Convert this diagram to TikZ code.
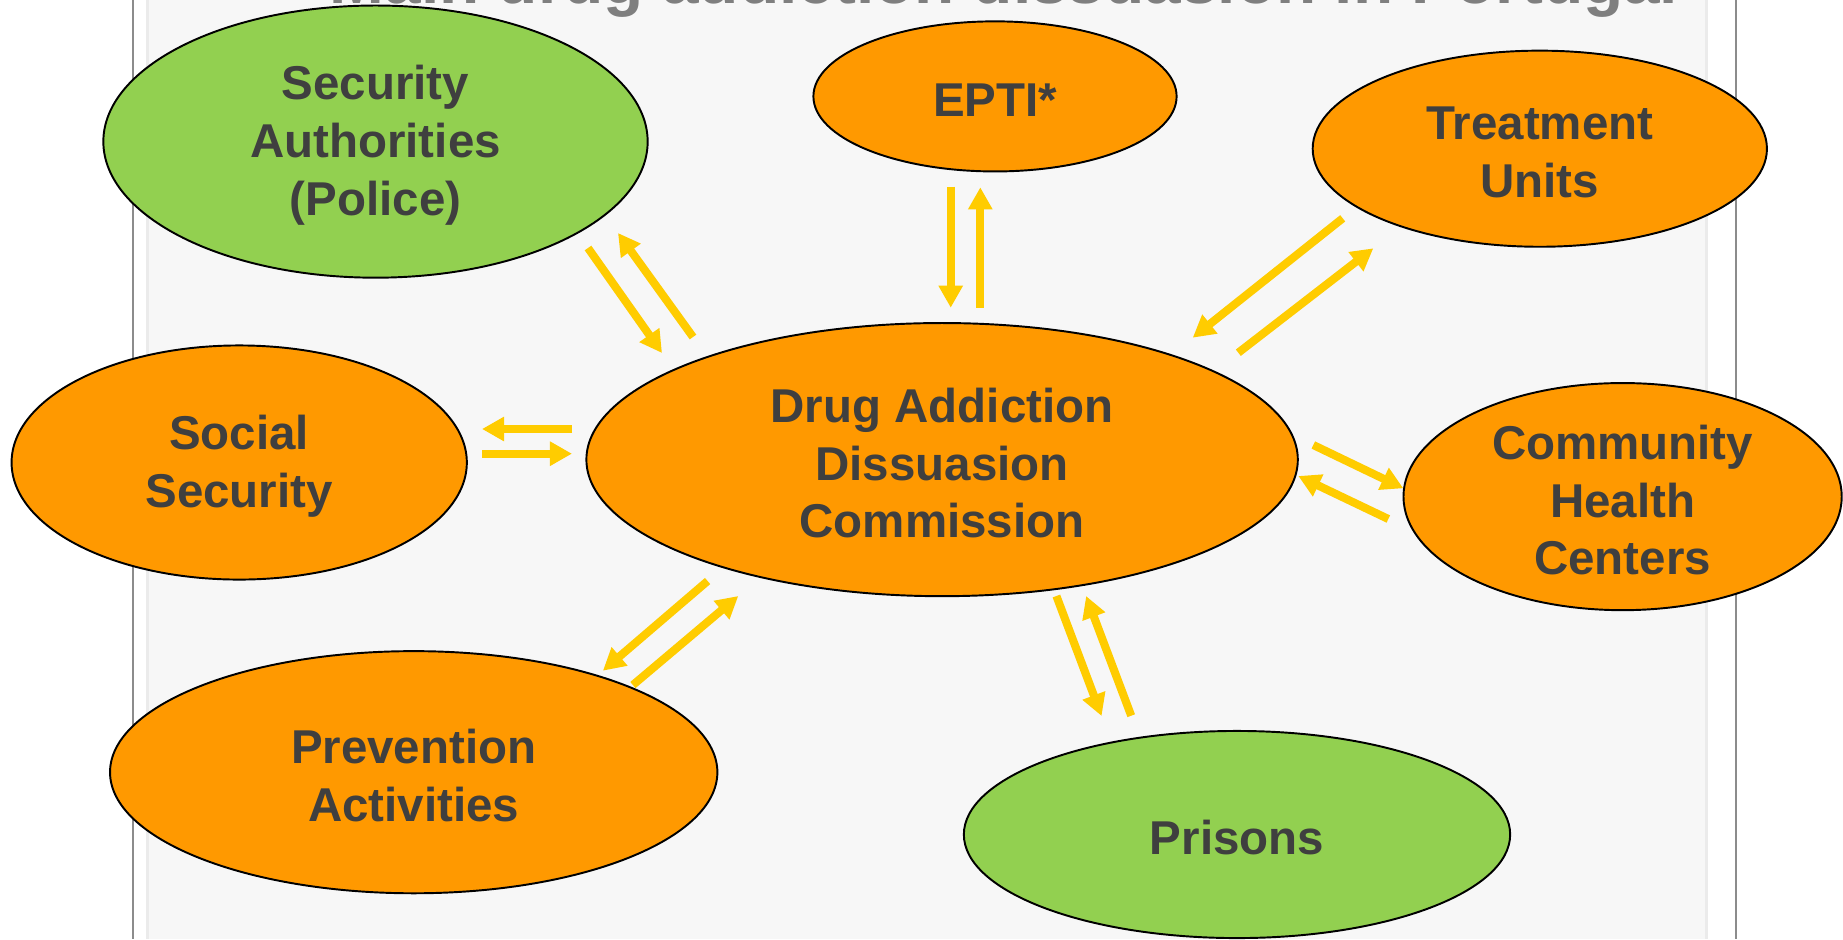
\documentclass[tikz,border=0pt]{standalone}
\usepackage{fontspec}
\setmainfont{Liberation Sans}
\usetikzlibrary{arrows.meta,shapes.geometric}
\definecolor{orangeF}{HTML}{FF9900}
\definecolor{greenF}{HTML}{92D050}
\definecolor{arrowY}{HTML}{FFCC00}
\definecolor{txt}{HTML}{3F3F3F}
\definecolor{panel}{HTML}{F7F7F7}
\definecolor{paneledge}{HTML}{EBEBEB}
\definecolor{frame}{HTML}{8C8C8C}
\definecolor{titlegray}{HTML}{7F7F7F}
\begin{document}
\begin{tikzpicture}[x=0.01cm,y=-0.01cm,
  blob/.style={ellipse, draw=black, line width=0.55pt, inner sep=0pt},
  orangeblob/.style={blob, fill=orangeF},
  greenblob/.style={blob, fill=greenF},
  blobtext/.style={align=center, inner sep=0pt, text=txt, yshift=-0.035cm,
    font=\fontsize{13.5}{16.4}\selectfont\bfseries},
  flow/.style={draw=arrowY, line width=2.3pt, -{Triangle[width=0.23cm,length=0.22cm]}},
  frameline/.style={draw=frame, line width=0.65pt}]
\path[use as bounding box] (0,0) rectangle (1843,939);
\clip (0,0) rectangle (1843,939);
\fill[white] (0,0) rectangle (1843,939);
\fill[panel] (147,0) rectangle (1707,939);
\draw[paneledge, line width=0.6pt] (147.5,0) -- (147.5,939) (1706.5,0) -- (1706.5,939);
\draw[frameline] (133,0) -- (133,939) (1736,0) -- (1736,939);

\node[anchor=base, text=titlegray, font=\fontsize{18.7}{22}\selectfont\bfseries, inner sep=0pt] (title) at (1004,3) {Main drug addiction dissuasion in Portugal};

\node[greenblob, minimum width=5.44cm, minimum height=2.72cm,
  label={[blobtext, name=police-t]center:{Security\\Authorities\\(Police)}}] (police) at (375.5,141.6) {};
\node[orangeblob, minimum width=3.63cm, minimum height=1.50cm,
  label={[blobtext, name=epti-t]center:{EPTI*}}] (epti) at (995,96.4) {};
\node[orangeblob, minimum width=4.54cm, minimum height=1.96cm,
  label={[blobtext, name=treat-t]center:{Treatment\\Units}}] (treat) at (1539.8,148.7) {};
\node[orangeblob, minimum width=4.55cm, minimum height=2.34cm,
  label={[blobtext, name=social-t]center:{Social\\Security}}] (social) at (239.2,462.5) {};
\node[orangeblob, minimum width=7.11cm, minimum height=2.73cm,
  label={[blobtext, name=comm-t]center:{Drug Addiction\\Dissuasion\\Commission}}] (comm) at (942.1,459.6) {};
\node[orangeblob, minimum width=4.38cm, minimum height=2.27cm,
  label={[blobtext, name=chc-t]center:{Community\\Health\\Centers}}] (chc) at (1622.6,496.6) {};
\node[orangeblob, minimum width=6.07cm, minimum height=2.42cm,
  label={[blobtext, name=prev-t]center:{Prevention\\Activities}}] (prev) at (413.7,772.2) {};
\node[greenblob, minimum width=5.46cm, minimum height=2.07cm,
  label={[blobtext, name=prisons-t]center:{Prisons}}] (prisons) at (1237,834.5) {};

% arrow end points
\coordinate (e1a) at (950.7,186.7);  \coordinate (e1b) at (950.7,307.7);
\coordinate (e2a) at (980.3,307.7);  \coordinate (e2b) at (980.3,187.3);
\coordinate (p1a) at (588,248);      \coordinate (p1b) at (662,353);
\coordinate (p2a) at (693,337);      \coordinate (p2b) at (618,233);
\coordinate (t1a) at (1342.7,218.3); \coordinate (t1b) at (1192.7,337.7);
\coordinate (t2a) at (1238.3,352.7); \coordinate (t2b) at (1373.3,248.3);
\coordinate (s1a) at (572,429);      \coordinate (s1b) at (482,429);
\coordinate (s2a) at (482,453.7);    \coordinate (s2b) at (572,453.7);
\coordinate (c1a) at (1313.3,445);   \coordinate (c1b) at (1403.3,488.3);
\coordinate (c2a) at (1388.3,519);   \coordinate (c2b) at (1298.3,476);
\coordinate (v1a) at (707.6,581);    \coordinate (v1b) at (602.9,670.7);
\coordinate (v2a) at (632.9,685);    \coordinate (v2b) at (738.3,596);
\coordinate (r1a) at (1056.4,596);   \coordinate (r1b) at (1101.6,716);
\coordinate (r2a) at (1131.2,715.7); \coordinate (r2b) at (1086.1,596);

\draw[flow] (e1a) -- (e1b);
\draw[flow] (e2a) -- (e2b);
\draw[flow] (p1a) -- (p1b);
\draw[flow] (p2a) -- (p2b);
\draw[flow] (t1a) -- (t1b);
\draw[flow] (t2a) -- (t2b);
\draw[flow] (s1a) -- (s1b);
\draw[flow] (s2a) -- (s2b);
\draw[flow] (c1a) -- (c1b);
\draw[flow] (c2a) -- (c2b);
\draw[flow] (v1a) -- (v1b);
\draw[flow] (v2a) -- (v2b);
\draw[flow] (r1a) -- (r1b);
\draw[flow] (r2a) -- (r2b);
\end{tikzpicture}
\end{document}
